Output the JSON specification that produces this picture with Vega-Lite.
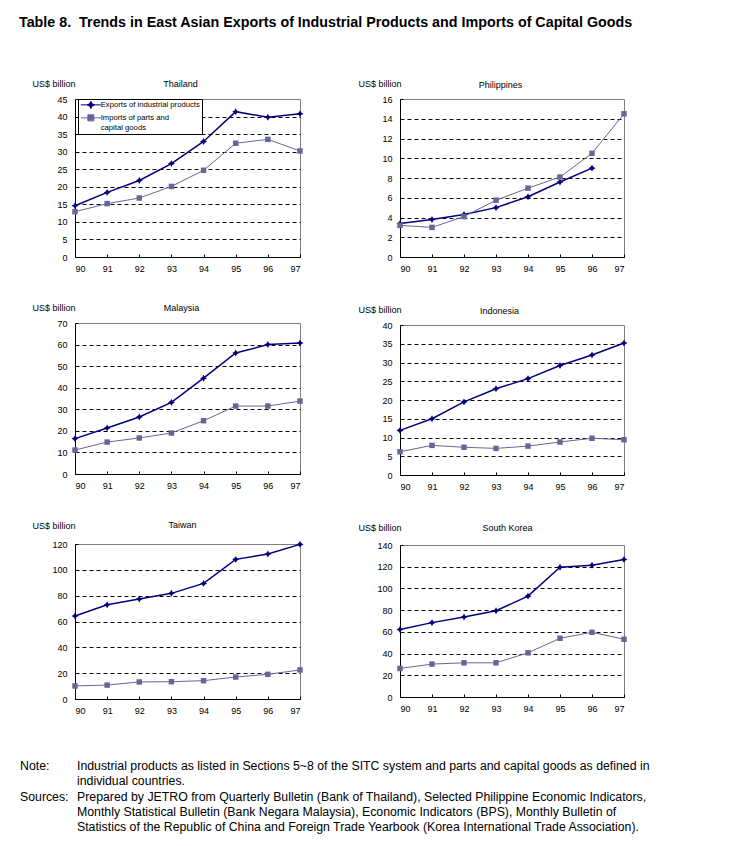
{
  "$schema": "https://vega.github.io/schema/vega-lite/v6.json",
  "padding": {"left": 19, "top": 16, "right": 5, "bottom": 5},
  "title": {"text": "Table 8.\u00a0 Trends in East Asian Exports of Industrial Products and Imports of Capital Goods", "anchor": "start", "fontSize": 14.3, "fontWeight": "bold", "font": "Liberation Sans", "color": "black", "offset": 48, "dx": -1},
  "config": {
    "font": "Liberation Sans",
    "view": {"stroke": "#808080", "strokeWidth": 1},
    "axis": {"labelFontSize": 9, "labelColor": "black", "titleFontSize": 9, "titleFontWeight": "normal", "titleColor": "black", "domainColor": "black", "tickColor": "black", "gridColor": "black", "gridDash": [4, 3], "labelFont": "Liberation Sans", "titleFont": "Liberation Sans"},
    "text": {"font": "Liberation Sans", "color": "black"}
  },
  "datasets": {
    "trade": [
      {"country": "Thailand", "year": 90, "exports": 14.6, "imports": 12.9},
      {"country": "Thailand", "year": 91, "exports": 18.4, "imports": 15.2},
      {"country": "Thailand", "year": 92, "exports": 21.8, "imports": 16.8},
      {"country": "Thailand", "year": 93, "exports": 26.6, "imports": 20.1},
      {"country": "Thailand", "year": 94, "exports": 32.9, "imports": 24.7},
      {"country": "Thailand", "year": 95, "exports": 41.4, "imports": 32.4},
      {"country": "Thailand", "year": 96, "exports": 39.8, "imports": 33.5},
      {"country": "Thailand", "year": 97, "exports": 40.8, "imports": 30.2},
      {"country": "Philippines", "year": 90, "exports": 3.4, "imports": 3.2},
      {"country": "Philippines", "year": 91, "exports": 3.8, "imports": 3.0},
      {"country": "Philippines", "year": 92, "exports": 4.3, "imports": 4.1},
      {"country": "Philippines", "year": 93, "exports": 5.0, "imports": 5.75},
      {"country": "Philippines", "year": 94, "exports": 6.1, "imports": 6.97},
      {"country": "Philippines", "year": 95, "exports": 7.6, "imports": 8.1},
      {"country": "Philippines", "year": 96, "exports": 9.0, "imports": 10.5},
      {"country": "Philippines", "year": 97, "exports": null, "imports": 14.5},
      {"country": "Malaysia", "year": 90, "exports": 16.4, "imports": 11.1},
      {"country": "Malaysia", "year": 91, "exports": 21.3, "imports": 14.8},
      {"country": "Malaysia", "year": 92, "exports": 26.4, "imports": 16.7},
      {"country": "Malaysia", "year": 93, "exports": 33.2, "imports": 19.0},
      {"country": "Malaysia", "year": 94, "exports": 44.4, "imports": 24.7},
      {"country": "Malaysia", "year": 95, "exports": 56.1, "imports": 31.5},
      {"country": "Malaysia", "year": 96, "exports": 60.0, "imports": 31.5},
      {"country": "Malaysia", "year": 97, "exports": 60.7, "imports": 33.8},
      {"country": "Indonesia", "year": 90, "exports": 11.9, "imports": 6.2},
      {"country": "Indonesia", "year": 91, "exports": 15.0, "imports": 7.9},
      {"country": "Indonesia", "year": 92, "exports": 19.5, "imports": 7.4},
      {"country": "Indonesia", "year": 93, "exports": 23.0, "imports": 7.1},
      {"country": "Indonesia", "year": 94, "exports": 25.7, "imports": 7.7},
      {"country": "Indonesia", "year": 95, "exports": 29.2, "imports": 8.8},
      {"country": "Indonesia", "year": 96, "exports": 32.0, "imports": 9.8},
      {"country": "Indonesia", "year": 97, "exports": 35.2, "imports": 9.4},
      {"country": "Taiwan", "year": 90, "exports": 64.3, "imports": 10.1},
      {"country": "Taiwan", "year": 91, "exports": 73.0, "imports": 10.8},
      {"country": "Taiwan", "year": 92, "exports": 77.4, "imports": 13.2},
      {"country": "Taiwan", "year": 93, "exports": 81.8, "imports": 13.4},
      {"country": "Taiwan", "year": 94, "exports": 89.5, "imports": 14.2},
      {"country": "Taiwan", "year": 95, "exports": 108.1, "imports": 17.0},
      {"country": "Taiwan", "year": 96, "exports": 112.3, "imports": 19.1},
      {"country": "Taiwan", "year": 97, "exports": 119.7, "imports": 22.5},
      {"country": "South Korea", "year": 90, "exports": 62.1, "imports": 26.3},
      {"country": "South Korea", "year": 91, "exports": 68.5, "imports": 30.3},
      {"country": "South Korea", "year": 92, "exports": 73.7, "imports": 31.5},
      {"country": "South Korea", "year": 93, "exports": 79.5, "imports": 31.5},
      {"country": "South Korea", "year": 94, "exports": 92.9, "imports": 40.7},
      {"country": "South Korea", "year": 95, "exports": 119.5, "imports": 54.1},
      {"country": "South Korea", "year": 96, "exports": 121.4, "imports": 59.6},
      {"country": "South Korea", "year": 97, "exports": 126.6, "imports": 53.2}
    ],
    "notes": [
      {"line": 1, "label": "Note:", "text": "Industrial products as listed in Sections 5~8 of the SITC system and parts and capital goods as defined in"},
      {"line": 2, "label": "", "text": "individual countries."},
      {"line": 3, "label": "Sources:", "text": "Prepared by JETRO from Quarterly Bulletin (Bank of Thailand), Selected Philippine Economic Indicators,"},
      {"line": 4, "label": "", "text": "Monthly Statistical Bulletin (Bank Negara Malaysia), Economic Indicators (BPS), Monthly Bulletin of"},
      {"line": 5, "label": "", "text": "Statistics of the Republic of China and Foreign Trade Yearbook (Korea International Trade Association)."}
    ]
  },
  "resolve": {"scale": {"fill": "independent", "stroke": "independent", "shape": "independent"}, "legend": {"fill": "independent", "stroke": "independent", "shape": "independent"}},
  "spacing": 44,
  "vconcat": [
    {
      "spacing": 53,
      "resolve": {"scale": {"fill": "independent", "stroke": "independent", "shape": "independent"}, "legend": {"fill": "independent", "stroke": "independent", "shape": "independent"}},
      "hconcat": [
        {
          "spacing": 28,
          "resolve": {"scale": {"fill": "independent", "stroke": "independent", "shape": "independent"}, "legend": {"fill": "independent", "stroke": "independent", "shape": "independent"}},
          "vconcat": [
            {
              "data": {"name": "trade"},
              "width": 225, "height": 158,
              "transform": [{"filter": "datum.country == 'Thailand'"}, {"fold": ["exports", "imports"], "as": ["series", "value"]}],
              "resolve": {"axis": {"x": "independent", "y": "independent"}},
              "layer": [
                {"mark": {"type": "line"},
                 "encoding": {
                   "x": {"field": "year", "type": "quantitative", "scale": {"domain": [90, 97], "nice": false, "zero": false}, "axis": {"values": [90, 91, 92, 93, 94, 95, 96, 97], "format": "d", "title": null, "tickSize": -3, "labelPadding": 10, "grid": false}},
                   "y": {"field": "value", "type": "quantitative", "scale": {"domain": [0, 45], "nice": false}, "axis": {"values": [0, 5, 10, 15, 20, 25, 30, 35, 40, 45], "title": "US$ billion", "titleAngle": 0, "titleAlign": "right", "titleBaseline": "middle", "titleX": 0, "titleY": -16, "ticks": false, "labelPadding": 8, "grid": true, "gridOpacity": {"condition": {"test": "datum.value >= 45", "value": 0}, "value": 1}}},
                   "color": {"field": "series", "type": "nominal", "scale": {"domain": ["exports", "imports"], "range": ["#000080", "#666699"]}, "legend": null},
                   "strokeWidth": {"field": "series", "type": "nominal", "scale": {"domain": ["exports", "imports"], "range": [1.5, 1]}, "legend": null}
                 }},
                {"transform": [{"filter": "datum.series == 'exports'"}],
                 "mark": {"type": "point", "shape": "M0,-1.1L0.4,-0.4L1.1,0L0.4,0.4L0,1.1L-0.4,0.4L-1.1,0L-0.4,-0.4Z", "filled": true, "size": 40, "color": "#000080", "opacity": 1},
                 "encoding": {
                   "x": {"field": "year", "type": "quantitative", "scale": {"domain": [90, 97], "nice": false, "zero": false}, "axis": {"orient": "top", "labels": false, "ticks": false, "domain": false, "grid": false, "title": "Thailand", "titleX": 105, "titleY": -16, "titleBaseline": "middle", "titleAlign": "center"}},
                   "y": {"field": "value", "type": "quantitative", "scale": {"domain": [0, 45], "nice": false}, "axis": null}
                 }},
                {"transform": [{"filter": "datum.series == 'imports'"}],
                 "mark": {"type": "point", "shape": "square", "filled": true, "size": 30, "color": "#666699", "opacity": 1},
                 "encoding": {
                   "x": {"field": "year", "type": "quantitative", "scale": {"domain": [90, 97], "nice": false, "zero": false}, "axis": null},
                   "y": {"field": "value", "type": "quantitative", "scale": {"domain": [0, 45], "nice": false}, "axis": {"orient": "left", "labels": false, "domain": false, "grid": false, "title": null, "tickSize": -3, "values": [5, 10, 15, 20, 25, 30, 35, 40, 45]}}
                 }},
                {"transform": [{"filter": "false"}],
                 "mark": {"type": "point", "filled": true, "opacity": 1},
                 "encoding": {
                   "x": {"field": "year", "type": "quantitative", "scale": {"domain": [90, 97], "nice": false, "zero": false}, "axis": null},
                   "y": {"field": "value", "type": "quantitative", "scale": {"domain": [0, 45], "nice": false}, "axis": null},
                   "fill": {"field": "series", "type": "nominal", "scale": {"domain": ["exports", "imports"], "range": ["#000080", "#666699"]}, "legend": {"orient": "none", "legendX": 3, "legendY": 0, "title": null, "strokeColor": "black", "fillColor": "white", "padding": 2, "labelFontSize": 7.7, "labelFont": "Liberation Sans", "labelColor": "black", "labelOffset": 6, "symbolOffset": 7, "symbolSize": 36, "symbolStrokeWidth": 1, "symbolOpacity": 1, "rowPadding": 1, "labelExpr": "datum.value == 'exports' ? 'Exports of industrial products' : ['Imports of parts and', 'capital goods']"}},
                   "stroke": {"field": "series", "type": "nominal", "scale": {"domain": ["exports", "imports"], "range": ["#000080", "#666699"]}, "legend": {"orient": "none", "legendX": 3, "legendY": 0, "title": null, "strokeColor": "black", "fillColor": "white", "padding": 2, "labelFontSize": 7.7, "labelFont": "Liberation Sans", "labelColor": "black", "labelOffset": 6, "symbolOffset": 7, "symbolSize": 36, "symbolStrokeWidth": 1, "symbolOpacity": 1, "rowPadding": 1, "labelExpr": "datum.value == 'exports' ? 'Exports of industrial products' : ['Imports of parts and', 'capital goods']"}},
                   "shape": {"field": "series", "type": "nominal", "scale": {"domain": ["exports", "imports"], "range": ["M-3.33,0H3.33M0,-1.2L0.4,-0.4L1.2,0L0.4,0.4L0,1.2L-0.4,0.4L-1.2,0L-0.4,-0.4Z", "M-3.33,0H3.33M-1,-1H1V1H-1Z"]}, "legend": {"orient": "none", "legendX": 3, "legendY": 0, "title": null, "strokeColor": "black", "fillColor": "white", "padding": 2, "labelFontSize": 7.7, "labelFont": "Liberation Sans", "labelColor": "black", "labelOffset": 6, "symbolOffset": 7, "symbolSize": 36, "symbolStrokeWidth": 1, "symbolOpacity": 1, "rowPadding": 1, "labelExpr": "datum.value == 'exports' ? 'Exports of industrial products' : ['Imports of parts and', 'capital goods']"}}
                 }}
              ]
            },
            {
              "data": {"name": "trade"},
              "width": 225, "height": 151,
              "transform": [{"filter": "datum.country == 'Malaysia'"}, {"fold": ["exports", "imports"], "as": ["series", "value"]}],
              "resolve": {"axis": {"x": "independent", "y": "independent"}},
              "layer": [
                {"mark": {"type": "line"},
                 "encoding": {
                   "x": {"field": "year", "type": "quantitative", "scale": {"domain": [90, 97], "nice": false, "zero": false}, "axis": {"values": [90, 91, 92, 93, 94, 95, 96, 97], "format": "d", "title": null, "tickSize": -3, "labelPadding": 10, "grid": false}},
                   "y": {"field": "value", "type": "quantitative", "scale": {"domain": [0, 70], "nice": false}, "axis": {"values": [0, 10, 20, 30, 40, 50, 60, 70], "title": "US$ billion", "titleAngle": 0, "titleAlign": "right", "titleBaseline": "middle", "titleX": 0, "titleY": -16, "ticks": false, "labelPadding": 8, "grid": true, "gridOpacity": {"condition": {"test": "datum.value >= 70", "value": 0}, "value": 1}}},
                   "color": {"field": "series", "type": "nominal", "scale": {"domain": ["exports", "imports"], "range": ["#000080", "#666699"]}, "legend": null},
                   "strokeWidth": {"field": "series", "type": "nominal", "scale": {"domain": ["exports", "imports"], "range": [1.5, 1]}, "legend": null}
                 }},
                {"transform": [{"filter": "datum.series == 'exports'"}],
                 "mark": {"type": "point", "shape": "M0,-1.1L0.4,-0.4L1.1,0L0.4,0.4L0,1.1L-0.4,0.4L-1.1,0L-0.4,-0.4Z", "filled": true, "size": 40, "color": "#000080", "opacity": 1},
                 "encoding": {
                   "x": {"field": "year", "type": "quantitative", "scale": {"domain": [90, 97], "nice": false, "zero": false}, "axis": {"orient": "top", "labels": false, "ticks": false, "domain": false, "grid": false, "title": "Malaysia", "titleX": 106, "titleY": -16, "titleBaseline": "middle", "titleAlign": "center"}},
                   "y": {"field": "value", "type": "quantitative", "scale": {"domain": [0, 70], "nice": false}, "axis": null}
                 }},
                {"transform": [{"filter": "datum.series == 'imports'"}],
                 "mark": {"type": "point", "shape": "square", "filled": true, "size": 30, "color": "#666699", "opacity": 1},
                 "encoding": {
                   "x": {"field": "year", "type": "quantitative", "scale": {"domain": [90, 97], "nice": false, "zero": false}, "axis": null},
                   "y": {"field": "value", "type": "quantitative", "scale": {"domain": [0, 70], "nice": false}, "axis": {"orient": "left", "labels": false, "domain": false, "grid": false, "title": null, "tickSize": -3, "values": [10, 20, 30, 40, 50, 60, 70]}}
                 }}
              ]
            },
            {
              "data": {"name": "trade"},
              "width": 225, "height": 155,
              "transform": [{"filter": "datum.country == 'Taiwan'"}, {"fold": ["exports", "imports"], "as": ["series", "value"]}],
              "resolve": {"axis": {"x": "independent", "y": "independent"}},
              "layer": [
                {"mark": {"type": "line"},
                 "encoding": {
                   "x": {"field": "year", "type": "quantitative", "scale": {"domain": [90, 97], "nice": false, "zero": false}, "axis": {"values": [90, 91, 92, 93, 94, 95, 96, 97], "format": "d", "title": null, "tickSize": -3, "labelPadding": 10, "grid": false}},
                   "y": {"field": "value", "type": "quantitative", "scale": {"domain": [0, 120], "nice": false}, "axis": {"values": [0, 20, 40, 60, 80, 100, 120], "title": "US$ billion", "titleAngle": 0, "titleAlign": "right", "titleBaseline": "middle", "titleX": 0, "titleY": -19, "ticks": false, "labelPadding": 8, "grid": true, "gridOpacity": {"condition": {"test": "datum.value >= 120", "value": 0}, "value": 1}}},
                   "color": {"field": "series", "type": "nominal", "scale": {"domain": ["exports", "imports"], "range": ["#000080", "#666699"]}, "legend": null},
                   "strokeWidth": {"field": "series", "type": "nominal", "scale": {"domain": ["exports", "imports"], "range": [1.5, 1]}, "legend": null}
                 }},
                {"transform": [{"filter": "datum.series == 'exports'"}],
                 "mark": {"type": "point", "shape": "M0,-1.1L0.4,-0.4L1.1,0L0.4,0.4L0,1.1L-0.4,0.4L-1.1,0L-0.4,-0.4Z", "filled": true, "size": 40, "color": "#000080", "opacity": 1},
                 "encoding": {
                   "x": {"field": "year", "type": "quantitative", "scale": {"domain": [90, 97], "nice": false, "zero": false}, "axis": {"orient": "top", "labels": false, "ticks": false, "domain": false, "grid": false, "title": "Taiwan", "titleX": 107, "titleY": -20, "titleBaseline": "middle", "titleAlign": "center"}},
                   "y": {"field": "value", "type": "quantitative", "scale": {"domain": [0, 120], "nice": false}, "axis": null}
                 }},
                {"transform": [{"filter": "datum.series == 'imports'"}],
                 "mark": {"type": "point", "shape": "square", "filled": true, "size": 30, "color": "#666699", "opacity": 1},
                 "encoding": {
                   "x": {"field": "year", "type": "quantitative", "scale": {"domain": [90, 97], "nice": false, "zero": false}, "axis": null},
                   "y": {"field": "value", "type": "quantitative", "scale": {"domain": [0, 120], "nice": false}, "axis": {"orient": "left", "labels": false, "domain": false, "grid": false, "title": null, "tickSize": -3, "values": [20, 40, 60, 80, 100, 120]}}
                 }}
              ]
            }
          ]
        },
        {
          "spacing": 30,
          "resolve": {"scale": {"fill": "independent", "stroke": "independent", "shape": "independent"}, "legend": {"fill": "independent", "stroke": "independent", "shape": "independent"}},
          "vconcat": [
            {
              "data": {"name": "trade"},
              "width": 224, "height": 158,
              "transform": [{"filter": "datum.country == 'Philippines'"}, {"fold": ["exports", "imports"], "as": ["series", "value"]}],
              "resolve": {"axis": {"x": "independent", "y": "independent"}},
              "layer": [
                {"mark": {"type": "line"},
                 "encoding": {
                   "x": {"field": "year", "type": "quantitative", "scale": {"domain": [90, 97], "nice": false, "zero": false}, "axis": {"values": [90, 91, 92, 93, 94, 95, 96, 97], "format": "d", "title": null, "tickSize": -3, "labelPadding": 10, "grid": false}},
                   "y": {"field": "value", "type": "quantitative", "scale": {"domain": [0, 16], "nice": false}, "axis": {"values": [0, 2, 4, 6, 8, 10, 12, 14, 16], "title": "US$ billion", "titleAngle": 0, "titleAlign": "right", "titleBaseline": "middle", "titleX": 1, "titleY": -16, "ticks": false, "labelPadding": 8, "grid": true, "gridOpacity": {"condition": {"test": "datum.value >= 16", "value": 0}, "value": 1}}},
                   "color": {"field": "series", "type": "nominal", "scale": {"domain": ["exports", "imports"], "range": ["#000080", "#666699"]}, "legend": null},
                   "strokeWidth": {"field": "series", "type": "nominal", "scale": {"domain": ["exports", "imports"], "range": [1.5, 1]}, "legend": null}
                 }},
                {"transform": [{"filter": "datum.series == 'exports'"}],
                 "mark": {"type": "point", "shape": "M0,-1.1L0.4,-0.4L1.1,0L0.4,0.4L0,1.1L-0.4,0.4L-1.1,0L-0.4,-0.4Z", "filled": true, "size": 40, "color": "#000080", "opacity": 1},
                 "encoding": {
                   "x": {"field": "year", "type": "quantitative", "scale": {"domain": [90, 97], "nice": false, "zero": false}, "axis": {"orient": "top", "labels": false, "ticks": false, "domain": false, "grid": false, "title": "Philippines", "titleX": 100, "titleY": -15, "titleBaseline": "middle", "titleAlign": "center"}},
                   "y": {"field": "value", "type": "quantitative", "scale": {"domain": [0, 16], "nice": false}, "axis": null}
                 }},
                {"transform": [{"filter": "datum.series == 'imports'"}],
                 "mark": {"type": "point", "shape": "square", "filled": true, "size": 30, "color": "#666699", "opacity": 1},
                 "encoding": {
                   "x": {"field": "year", "type": "quantitative", "scale": {"domain": [90, 97], "nice": false, "zero": false}, "axis": null},
                   "y": {"field": "value", "type": "quantitative", "scale": {"domain": [0, 16], "nice": false}, "axis": {"orient": "left", "labels": false, "domain": false, "grid": false, "title": null, "tickSize": -3, "values": [2, 4, 6, 8, 10, 12, 14, 16]}}
                 }}
              ]
            },
            {
              "data": {"name": "trade"},
              "width": 224, "height": 150,
              "transform": [{"filter": "datum.country == 'Indonesia'"}, {"fold": ["exports", "imports"], "as": ["series", "value"]}],
              "resolve": {"axis": {"x": "independent", "y": "independent"}},
              "layer": [
                {"mark": {"type": "line"},
                 "encoding": {
                   "x": {"field": "year", "type": "quantitative", "scale": {"domain": [90, 97], "nice": false, "zero": false}, "axis": {"values": [90, 91, 92, 93, 94, 95, 96, 97], "format": "d", "title": null, "tickSize": -3, "labelPadding": 10, "grid": false}},
                   "y": {"field": "value", "type": "quantitative", "scale": {"domain": [0, 40], "nice": false}, "axis": {"values": [0, 5, 10, 15, 20, 25, 30, 35, 40], "title": "US$ billion", "titleAngle": 0, "titleAlign": "right", "titleBaseline": "middle", "titleX": 1, "titleY": -16, "ticks": false, "labelPadding": 8, "grid": true, "gridOpacity": {"condition": {"test": "datum.value >= 40", "value": 0}, "value": 1}}},
                   "color": {"field": "series", "type": "nominal", "scale": {"domain": ["exports", "imports"], "range": ["#000080", "#666699"]}, "legend": null},
                   "strokeWidth": {"field": "series", "type": "nominal", "scale": {"domain": ["exports", "imports"], "range": [1.5, 1]}, "legend": null}
                 }},
                {"transform": [{"filter": "datum.series == 'exports'"}],
                 "mark": {"type": "point", "shape": "M0,-1.1L0.4,-0.4L1.1,0L0.4,0.4L0,1.1L-0.4,0.4L-1.1,0L-0.4,-0.4Z", "filled": true, "size": 40, "color": "#000080", "opacity": 1},
                 "encoding": {
                   "x": {"field": "year", "type": "quantitative", "scale": {"domain": [90, 97], "nice": false, "zero": false}, "axis": {"orient": "top", "labels": false, "ticks": false, "domain": false, "grid": false, "title": "Indonesia", "titleX": 99, "titleY": -15, "titleBaseline": "middle", "titleAlign": "center"}},
                   "y": {"field": "value", "type": "quantitative", "scale": {"domain": [0, 40], "nice": false}, "axis": null}
                 }},
                {"transform": [{"filter": "datum.series == 'imports'"}],
                 "mark": {"type": "point", "shape": "square", "filled": true, "size": 30, "color": "#666699", "opacity": 1},
                 "encoding": {
                   "x": {"field": "year", "type": "quantitative", "scale": {"domain": [90, 97], "nice": false, "zero": false}, "axis": null},
                   "y": {"field": "value", "type": "quantitative", "scale": {"domain": [0, 40], "nice": false}, "axis": {"orient": "left", "labels": false, "domain": false, "grid": false, "title": null, "tickSize": -3, "values": [5, 10, 15, 20, 25, 30, 35, 40]}}
                 }}
              ]
            },
            {
              "data": {"name": "trade"},
              "width": 224, "height": 152,
              "transform": [{"filter": "datum.country == 'South Korea'"}, {"fold": ["exports", "imports"], "as": ["series", "value"]}],
              "resolve": {"axis": {"x": "independent", "y": "independent"}},
              "layer": [
                {"mark": {"type": "line"},
                 "encoding": {
                   "x": {"field": "year", "type": "quantitative", "scale": {"domain": [90, 97], "nice": false, "zero": false}, "axis": {"values": [90, 91, 92, 93, 94, 95, 96, 97], "format": "d", "title": null, "tickSize": -3, "labelPadding": 10, "grid": false}},
                   "y": {"field": "value", "type": "quantitative", "scale": {"domain": [0, 140], "nice": false}, "axis": {"values": [0, 20, 40, 60, 80, 100, 120, 140], "title": "US$ billion", "titleAngle": 0, "titleAlign": "right", "titleBaseline": "middle", "titleX": 1, "titleY": -18, "ticks": false, "labelPadding": 8, "grid": true, "gridOpacity": {"condition": {"test": "datum.value >= 140", "value": 0}, "value": 1}}},
                   "color": {"field": "series", "type": "nominal", "scale": {"domain": ["exports", "imports"], "range": ["#000080", "#666699"]}, "legend": null},
                   "strokeWidth": {"field": "series", "type": "nominal", "scale": {"domain": ["exports", "imports"], "range": [1.5, 1]}, "legend": null}
                 }},
                {"transform": [{"filter": "datum.series == 'exports'"}],
                 "mark": {"type": "point", "shape": "M0,-1.1L0.4,-0.4L1.1,0L0.4,0.4L0,1.1L-0.4,0.4L-1.1,0L-0.4,-0.4Z", "filled": true, "size": 40, "color": "#000080", "opacity": 1},
                 "encoding": {
                   "x": {"field": "year", "type": "quantitative", "scale": {"domain": [90, 97], "nice": false, "zero": false}, "axis": {"orient": "top", "labels": false, "ticks": false, "domain": false, "grid": false, "title": "South Korea", "titleX": 107, "titleY": -18, "titleBaseline": "middle", "titleAlign": "center"}},
                   "y": {"field": "value", "type": "quantitative", "scale": {"domain": [0, 140], "nice": false}, "axis": null}
                 }},
                {"transform": [{"filter": "datum.series == 'imports'"}],
                 "mark": {"type": "point", "shape": "square", "filled": true, "size": 30, "color": "#666699", "opacity": 1},
                 "encoding": {
                   "x": {"field": "year", "type": "quantitative", "scale": {"domain": [90, 97], "nice": false, "zero": false}, "axis": null},
                   "y": {"field": "value", "type": "quantitative", "scale": {"domain": [0, 140], "nice": false}, "axis": {"orient": "left", "labels": false, "domain": false, "grid": false, "title": null, "tickSize": -3, "values": [20, 40, 60, 80, 100, 120, 140]}}
                 }}
              ]
            }
          ]
        }
      ]
    },
    {
      "data": {"name": "notes"},
      "width": 640, "height": 61,
      "view": {"stroke": null},
      "layer": [
        {"mark": {"type": "text", "align": "left", "baseline": "middle", "fontSize": 12.3, "font": "Liberation Sans", "color": "black", "dx": -55},
         "encoding": {"x": {"value": 0}, "y": {"field": "line", "type": "ordinal", "scale": {"type": "point", "padding": 0}, "axis": null}, "text": {"field": "label"}}},
        {"mark": {"type": "text", "align": "left", "baseline": "middle", "fontSize": 12.3, "font": "Liberation Sans", "color": "black", "dx": 2},
         "encoding": {"x": {"value": 0}, "y": {"field": "line", "type": "ordinal", "scale": {"type": "point", "padding": 0}, "axis": null}, "text": {"field": "text"}}}
      ]
    }
  ]
}
